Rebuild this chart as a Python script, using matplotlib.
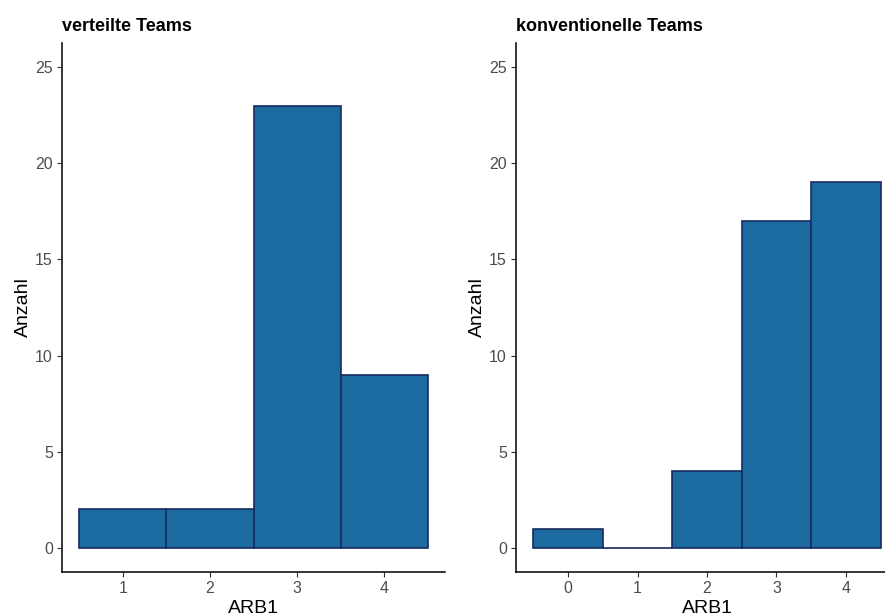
import matplotlib
matplotlib.use("Agg")
import matplotlib.pyplot as plt

plt.rcParams['font.family'] = ['Liberation Sans', 'DejaVu Sans']

# Antwortverteilung ARB1
verteilt_werte = [1, 2, 3, 4]
verteilt_anzahl = [2, 2, 23, 9]
konv_werte = [0, 1, 2, 3, 4]
konv_anzahl = [1, 0, 4, 17, 19]
titel = ["verteilte Teams", "konventionelle Teams"]
y_ticks = [0, 5, 10, 15, 20, 25]

fill = '#1B6AA0'
edge = '#172B5E'
tick_col = '#4D4D4D'

fig = plt.figure(figsize=(8.85, 6.14), dpi=100)
ax1 = fig.add_axes([62/885, 1-572/614, 383/885, 529/614])
ax2 = fig.add_axes([516/885, 1-572/614, 382/885, 529/614])

panels = [
    (ax1, verteilt_werte, verteilt_anzahl, titel[0], (0.3, 4.7)),
    (ax2, konv_werte, konv_anzahl, titel[1], (-0.75, 4.75)),
]

for ax, xs, ys, t, xl in panels:
    ax.bar(xs, ys, width=1.0, color=fill, edgecolor=edge, linewidth=1.2)
    ax.set_xlim(*xl)
    ax.set_ylim(-1.25, 26.25)
    ax.set_xticks(xs)
    ax.set_yticks(y_ticks)
    for s in ['top', 'right']:
        ax.spines[s].set_visible(False)
    for s in ['left', 'bottom']:
        ax.spines[s].set_linewidth(1.1)
        ax.spines[s].set_color('black')
    ax.tick_params(axis='both', length=3.5, width=0.8, color='#333333',
                   labelcolor=tick_col, labelsize=11.5, pad=3)
    ax.set_xlabel("ARB1", fontsize=14, labelpad=3)
    ax.set_ylabel("Anzahl", fontsize=14, labelpad=2)
    ax.set_title(t, loc='left', fontsize=13, fontweight='bold', pad=8.5)

fig.savefig("out.png", dpi=100)
